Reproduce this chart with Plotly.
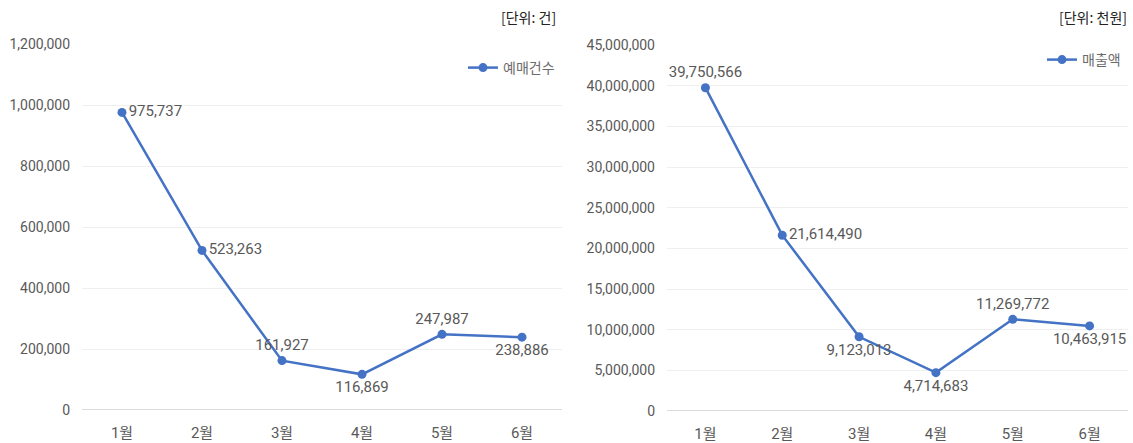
import plotly.graph_objects as go

months = ["1월", "2월", "3월", "4월", "5월", "6월"]
bookings = [975737, 523263, 161927, 116869, 247987, 238886]
sales = [39750566, 21614490, 9123013, 4714683, 11269772, 10463915]
booking_pos = ["middle right", "middle right", "top center", "bottom center", "top center", "bottom center"]
sales_pos = ["top center", "middle right", "bottom center", "bottom center", "top center", "bottom center"]
left_ticks = [0, 200000, 400000, 600000, 800000, 1000000, 1200000]
right_ticks = list(range(0, 45000001, 5000000))

W, H = 1133, 443
FONT = "Roboto, Noto Sans CJK KR, sans-serif"
KFONT = "Noto Sans CJK KR"
GREY = "#595959"
BLUE = "#4472C4"

fig = go.Figure()
fig.add_trace(go.Scatter(
    x=months, y=bookings, name="예매건수", mode="lines+markers+text",
    text=[f"{v:,}" for v in bookings], textposition=booking_pos,
    textfont=dict(size=15, color=GREY, family=FONT),
    line=dict(color=BLUE, width=2.5), marker=dict(size=9, color=BLUE),
    xaxis="x", yaxis="y", legend="legend", cliponaxis=False))
fig.add_trace(go.Scatter(
    x=months, y=sales, name="매출액", mode="lines+markers+text",
    text=[f"{v:,}" for v in sales], textposition=sales_pos,
    textfont=dict(size=15, color=GREY, family=FONT),
    line=dict(color=BLUE, width=2.5), marker=dict(size=9, color=BLUE),
    xaxis="x2", yaxis="y2", legend="legend2", cliponaxis=False))

xcommon = dict(showline=False, zeroline=False, ticks="", automargin=False,
               ticklabelstandoff=12, showgrid=False, range=[-0.5, 5.5],
               tickfont=dict(size=15, color=GREY, family=FONT))
ycommon = dict(showline=False, zeroline=False, ticks="", automargin=False,
               ticklabelstandoff=11, tickformat=",", gridcolor="#efefef",
               tickfont=dict(size=14, color=GREY, family=FONT))
fig.update_layout(
    width=W, height=H, margin=dict(l=0, r=0, t=0, b=0, autoexpand=False),
    paper_bgcolor="white", plot_bgcolor="white",
    font=dict(family=FONT, color=GREY),
    xaxis=dict(domain=[82 / W, 562 / W], anchor="y", **xcommon),
    yaxis=dict(domain=[33 / H, 399 / H], anchor="x", range=[0, 1200000],
               tickvals=left_ticks, **ycommon),
    xaxis2=dict(domain=[667 / W, 1128 / W], anchor="y2", **xcommon),
    yaxis2=dict(domain=[32 / H, 398 / H], anchor="x2", range=[0, 45000000],
                tickvals=right_ticks, **ycommon),
    legend=dict(x=560 / W, y=(H - 68) / H, xanchor="right", yanchor="middle",
                bgcolor="rgba(0,0,0,0)", font=dict(size=14, color="#6b6b6b", family=KFONT),
                itemwidth=30),
    legend2=dict(x=1126 / W, y=(H - 60) / H, xanchor="right", yanchor="middle",
                 bgcolor="rgba(0,0,0,0)", font=dict(size=14, color="#6b6b6b", family=KFONT),
                 itemwidth=30),
    showlegend=True,
    annotations=[
        dict(text="[단위: 건]", xref="paper", yref="paper", x=558 / W, y=(H - 17) / H,
             xanchor="right", yanchor="middle", showarrow=False,
             font=dict(size=14, color="#222222", family=KFONT)),
        dict(text="[단위: 천원]", xref="paper", yref="paper", x=1129 / W, y=(H - 17) / H,
             xanchor="right", yanchor="middle", showarrow=False,
             font=dict(size=14, color="#222222", family=KFONT)),
    ],
)
fig.add_shape(type="line", xref="x domain", yref="y", x0=0, x1=1, y0=0, y1=0,
              line=dict(color="#d0d0d0", width=1.5))
fig.add_shape(type="line", xref="x2 domain", yref="y2", x0=0, x1=1, y0=0, y1=0,
              line=dict(color="#d0d0d0", width=1.5))

fig.write_html("out.html")
